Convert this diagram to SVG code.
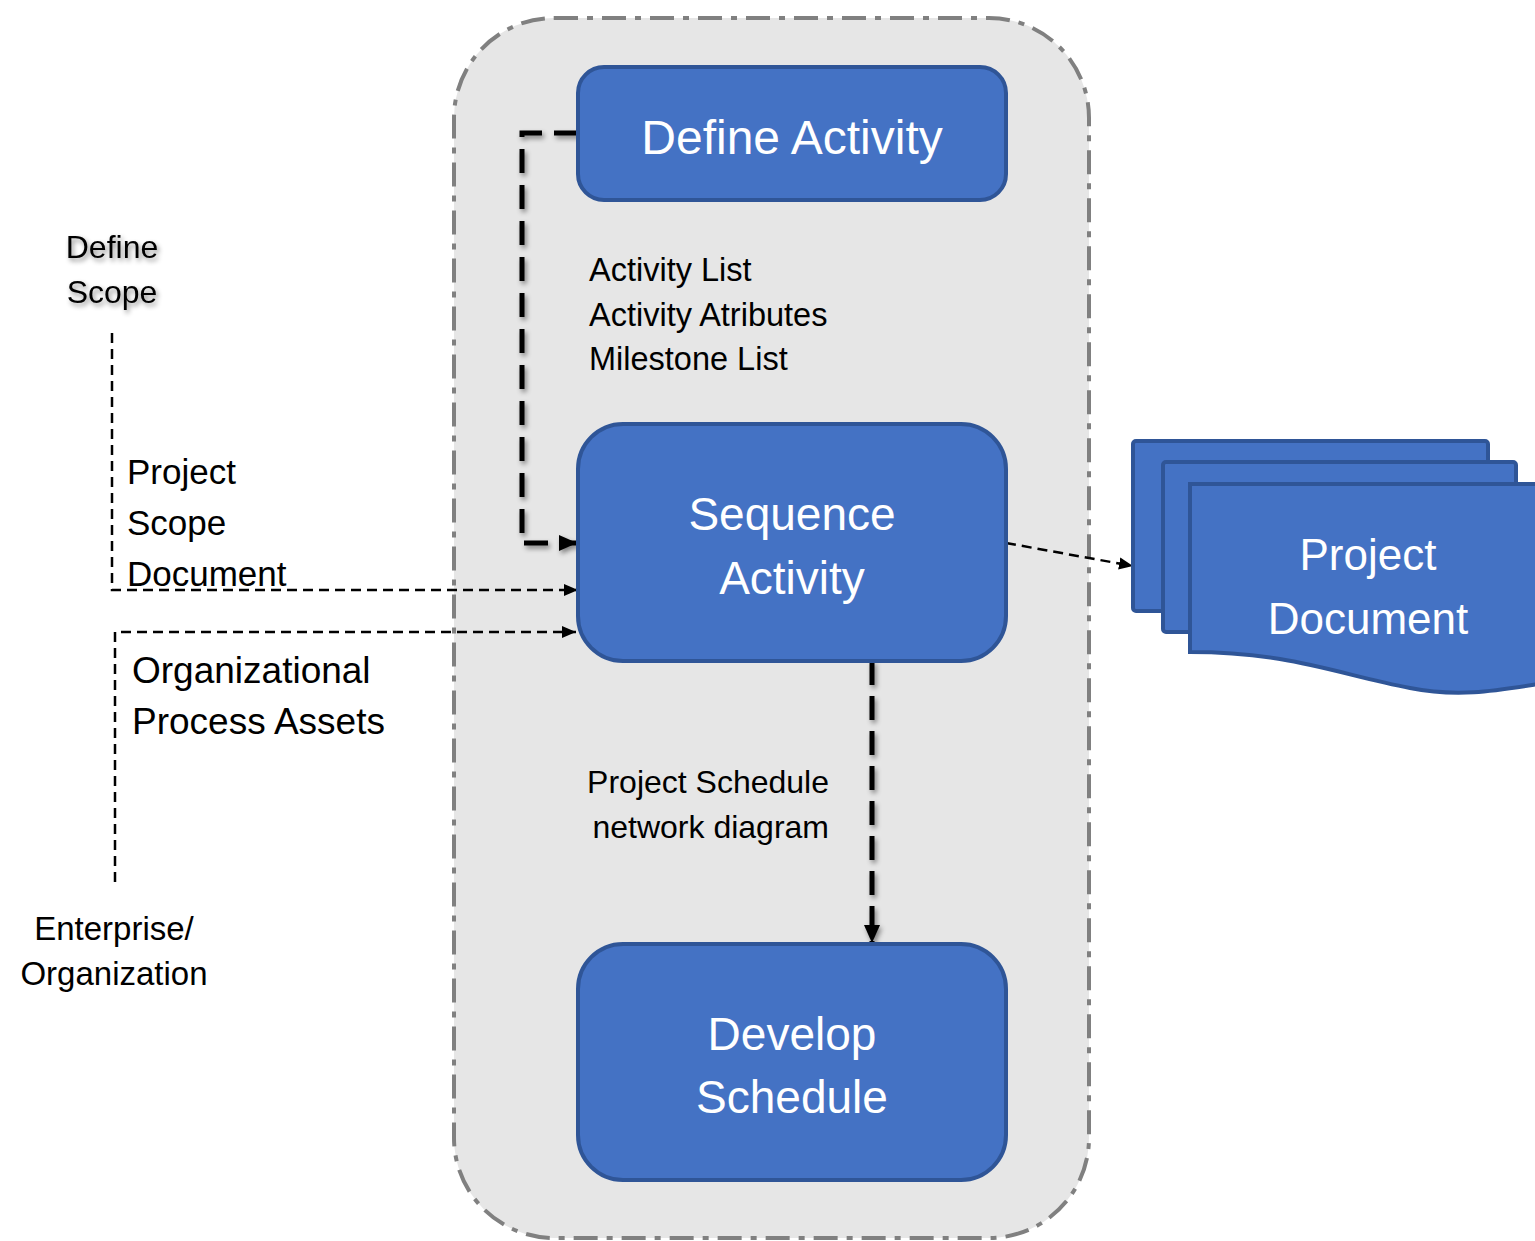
<svg xmlns="http://www.w3.org/2000/svg" width="1535" height="1241" viewBox="0 0 1535 1241">
<defs>
<style>
.lbl{font-family:"Liberation Sans",Arial,sans-serif;fill:#000}
.wt{font-family:"Liberation Sans",Arial,sans-serif;fill:#fff;text-anchor:middle}
.box{fill:#4472c4;stroke:#2f5597;stroke-width:4}
.thick{fill:none;stroke:#000;stroke-width:5;stroke-dasharray:24 11}
.thin{fill:none;stroke:#000;stroke-width:2.5;stroke-dasharray:10 6}
</style>
<filter id="sh" filterUnits="userSpaceOnUse" x="0" y="0" width="1535" height="1241">
<feDropShadow dx="2" dy="3" stdDeviation="2.5" flood-color="#000" flood-opacity="0.45"/>
</filter>
<marker id="ah" markerUnits="userSpaceOnUse" markerWidth="18" markerHeight="18" viewBox="0 0 18 18" refX="18" refY="9" orient="auto">
<path d="M0,1 L18,9 L0,17 Z" fill="#000"/>
</marker>
<marker id="ahs" markerUnits="userSpaceOnUse" markerWidth="14" markerHeight="14" viewBox="0 0 14 14" refX="14" refY="7" orient="auto">
<path d="M0,1 L14,7 L0,13 Z" fill="#000"/>
</marker>
</defs>
<rect width="1535" height="1241" fill="#fff"/>
<g id="container">
<rect x="454" y="18" width="635" height="1220" rx="100" ry="100" fill="#e6e6e6" stroke="#808080" stroke-width="4" stroke-dasharray="24 9 6 9"/>
</g>
<g id="connectors">
<path class="thick" filter="url(#sh)" d="M578,133 H522 V543 H577" style="stroke-dasharray:24 12" marker-end="url(#ah)"/>
<path class="thick" filter="url(#sh)" d="M872,661 V943" marker-end="url(#ah)"/>
<path class="thin" d="M1006,543 L1133,566" marker-end="url(#ahs)"/>
<path class="thin" d="M112,333 V590 H578" marker-end="url(#ahs)"/>
<path class="thin" d="M115,882 V632 H576" marker-end="url(#ahs)"/>
</g>
<g id="define-activity">
<rect class="box" x="578" y="67" width="428" height="133" rx="26"/>
<text class="wt" x="792" y="154" font-size="48">Define Activity</text>
</g>
<g id="sequence-activity">
<rect class="box" x="578" y="424" width="428" height="237" rx="45"/>
<text class="wt" x="792" y="530" font-size="46">Sequence</text>
<text class="wt" x="792" y="594" font-size="46">Activity</text>
</g>
<g id="develop-schedule">
<rect class="box" x="578" y="944" width="428" height="236" rx="45"/>
<text class="wt" x="792" y="1050" font-size="46">Develop</text>
<text class="wt" x="792" y="1113" font-size="46">Schedule</text>
</g>
<g id="project-document">
<rect class="box" x="1133" y="441" width="355" height="170" rx="3"/>
<rect class="box" x="1163" y="462" width="353" height="170" rx="3"/>
<path class="box" d="M1190,484 H1545 V683 C1500,690 1460,698 1410,688 C1340,675 1290,652 1190,652 Z"/>
<text class="wt" x="1368" y="570" font-size="44">Project</text>
<text class="wt" x="1368" y="634" font-size="44">Document</text>
</g>
<g id="define-scope" filter="url(#sh)">
<text class="lbl" x="112" y="258" font-size="32" text-anchor="middle">Define</text>
<text class="lbl" x="112" y="303" font-size="32" text-anchor="middle">Scope</text>
</g>
<g id="project-scope-document">
<text class="lbl" x="127" y="484" font-size="35">Project</text>
<text class="lbl" x="127" y="535" font-size="35">Scope</text>
<text class="lbl" x="127" y="586" font-size="35">Document</text>
</g>
<g id="org-process-assets">
<text class="lbl" x="132" y="683" font-size="37">Organizational</text>
<text class="lbl" x="132" y="734" font-size="37">Process Assets</text>
</g>
<g id="enterprise">
<text class="lbl" x="114" y="940" font-size="33" text-anchor="middle">Enterprise/</text>
<text class="lbl" x="114" y="985" font-size="33" text-anchor="middle">Organization</text>
</g>
<g id="activity-outputs">
<text class="lbl" x="589" y="281" font-size="32.5">Activity List</text>
<text class="lbl" x="589" y="326" font-size="32.5">Activity Atributes</text>
<text class="lbl" x="589" y="370" font-size="32.5">Milestone List</text>
</g>
<g id="schedule-network">
<text class="lbl" x="829" y="793" font-size="32" text-anchor="end">Project Schedule</text>
<text class="lbl" x="829" y="838" font-size="32" text-anchor="end">network diagram</text>
</g>
</svg>
